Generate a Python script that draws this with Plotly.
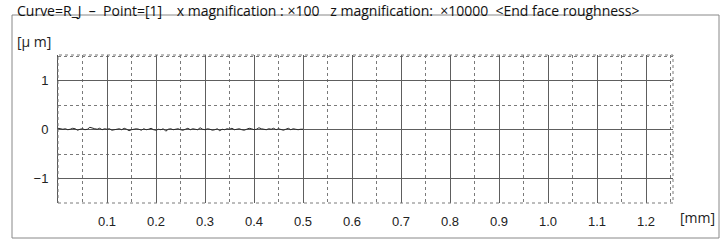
import plotly.graph_objects as go

# ---- data ----
x_mm = [round(i * 0.005, 3) for i in range(101)]
z_um = [0.03, 0.02, 0.01, 0.02, 0.00, 0.01, 0.03, 0.02, -0.01, 0.01,
        0.02, 0.00, 0.01, 0.05, 0.03, 0.02, 0.01, 0.03, 0.00, 0.02,
        0.01, 0.02, -0.01, 0.00, 0.01, 0.02, 0.00, 0.03, 0.01, -0.02,
        0.00, 0.01, 0.02, 0.01, -0.01, 0.02, 0.00, 0.01, 0.03, 0.00,
        -0.01, 0.01, 0.00, 0.02, -0.03, 0.01, 0.02, 0.00, 0.01, 0.02,
        0.00, -0.01, 0.01, 0.03, 0.00, 0.02, 0.01, 0.00, 0.04, 0.01,
        0.00, 0.02, 0.01, -0.01, 0.00, 0.02, -0.02, 0.01, 0.00, 0.02,
        0.01, 0.03, 0.00, 0.01, 0.02, 0.00, -0.01, 0.01, 0.03, 0.02,
        0.00, 0.01, 0.04, 0.02, 0.01, 0.00, 0.02, 0.01, 0.03, 0.00,
        0.02, 0.01, -0.01, 0.01, 0.03, 0.00, 0.02, 0.01, 0.00, 0.01,
        0.01]
x_ticks = [0.1, 0.2, 0.3, 0.4, 0.5, 0.6, 0.7, 0.8, 0.9, 1.0, 1.1, 1.2]
x_ticktext = ["0.1", "0.2", "0.3", "0.4", "0.5", "0.6", "0.7", "0.8", "0.9", "1.0", "1.1", "1.2"]
y_ticks = [1, 0, -1]
y_ticktext = ["1", "0", "\u22121"]

S = "\u00a0"
title = ("Curve=R_J" + S * 2 + "\u2013" + S * 2 + "Point=[1]" + S * 4 +
         "x magnification :" + S + "\u00d7100" + S * 3 + "z magnification:" + S * 2 +
         "\u00d710000" + S * 2 + "&lt;End face roughness&gt;")

font_fam = "Liberation Sans, Arial, sans-serif"
title_fam = "Open Sans, sans-serif"

fig = go.Figure()
fig.add_trace(go.Scatter(x=x_mm, y=z_um, mode="lines",
                         line=dict(color="#2a2a2a", width=1), showlegend=False,
                         hoverinfo="skip"))

grid_major = "#5e5e5e"
grid_minor = "#7a7a7a"

fig.update_xaxes(range=[0, 1.255], tickvals=x_ticks, ticktext=x_ticktext,
                 showgrid=True, gridcolor=grid_major, gridwidth=1,
                 minor=dict(dtick=0.05, tick0=0, showgrid=True, gridcolor=grid_minor,
                            griddash="dot", gridwidth=1),
                 zeroline=False, showline=False, ticks="",
                 ticklabelstandoff=9,
                 tickfont=dict(family=font_fam, size=13, color="#222"))
fig.update_yaxes(range=[-1.5, 1.53], tickvals=y_ticks, ticktext=y_ticktext,
                 showgrid=True, gridcolor=grid_major, gridwidth=1,
                 minor=dict(dtick=0.5, tick0=0, showgrid=True, gridcolor=grid_minor,
                            griddash="dot", gridwidth=1),
                 zeroline=False, showline=True, linecolor="#555", linewidth=1,
                 ticks="", ticklabelstandoff=6,
                 tickfont=dict(family=font_fam, size=13, color="#222"))

W, H = 726, 248
L, R, T, B = 58, 53, 55, 45
pw, ph = W - L - R, H - T - B

def px(xp):
    return (xp - L) / pw

def py(yp):
    return (H - B - yp) / ph

shapes = [
    # plot frame (dotted)
    dict(type="rect", xref="paper", yref="paper", x0=0, x1=1, y0=0, y1=1,
         line=dict(color=grid_minor, width=1, dash="dot"), layer="above"),
    # outer frame
    dict(type="rect", xref="paper", yref="paper", x0=px(12), x1=px(719),
         y0=py(238), y1=py(15), line=dict(color="#888", width=1)),
]

annotations = [
    dict(text=title, xref="paper", yref="paper", x=px(15), y=py(11),
         xanchor="left", yanchor="middle", showarrow=False,
         font=dict(family=title_fam, size=14, color="#111")),
    dict(text="[\u03bc" + S + "m]", xref="paper", yref="paper", x=px(15), y=py(42),
         xanchor="left", yanchor="middle", showarrow=False,
         font=dict(family=title_fam, size=14, color="#222")),
    dict(text="[mm]", xref="paper", yref="paper", x=px(678), y=py(217),
         xanchor="left", yanchor="middle", showarrow=False,
         font=dict(family=title_fam, size=14, color="#222")),
]

fig.update_layout(width=W, height=H, margin=dict(l=L, r=R, t=T, b=B),
                  paper_bgcolor="white", plot_bgcolor="white",
                  shapes=shapes, annotations=annotations, showlegend=False)

fig.write_html("out.html")
